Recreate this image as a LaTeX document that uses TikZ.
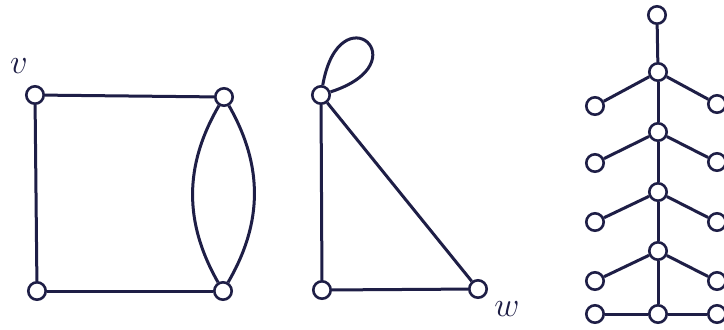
\documentclass[tikz,border=0pt]{standalone}
\usepackage{tikz}
\definecolor{tinte}{HTML}{1E1E46}
\tikzset{
  knoten/.style={circle,draw=tinte,fill=white,line width=1.3pt,minimum size=8.7pt,inner sep=0pt},
  kante/.style={tinte,line width=1.5pt},
  marke/.style={tinte,inner sep=0pt,font=\fontsize{18}{18}\selectfont},
}

\begin{document}
\begin{tikzpicture}[x=0.5pt,y=-0.5pt]
  \useasboundingbox[fill=white] (0,0) rectangle (724,329);
  % square with double edge
  \node[knoten] (v)  at (35,95)   {};
  \node[knoten] (ao) at (224,97)  {};
  \node[knoten] (cu) at (37,291)  {};
  \node[knoten] (bu) at (223,291) {};
  \node[marke] (lv) at (19,66) {$v$};
  \draw[kante] (v)--(ao);
  \draw[kante] (v)--(cu);
  \draw[kante] (cu)--(bu);
  \draw[kante] (ao) to[bend left=30] (bu);
  \draw[kante] (ao) to[bend right=30] (bu);
  % triangle with loop
  \node[knoten] (t)  at (321,95)  {};
  \node[knoten] (tu) at (322,290) {};
  \node[knoten] (w)  at (478,289) {};
  \node[marke] (lw) at (507,309) {$w$};
  \draw[kante] (t)--(tu);
  \draw[kante] (tu)--(w);
  \draw[kante] (t)--(w);
  \draw[kante] (t) to[out=80,in=18,distance=48pt] (t);
  % tree
  \node[knoten] (r0) at (657,15)  {};
  \node[knoten] (s1) at (658,72)  {};
  \node[knoten] (s2) at (658,132) {};
  \node[knoten] (s3) at (658,192) {};
  \node[knoten] (s4) at (658,251) {};
  \node[knoten] (s5) at (658,314) {};
  \node[knoten] (l1) at (595,106) {};
  \node[knoten] (l2) at (595,163) {};
  \node[knoten] (l3) at (595,222) {};
  \node[knoten] (l4) at (595,281) {};
  \node[knoten] (l5) at (595,314) {};
  \node[knoten] (q1) at (717,104) {};
  \node[knoten] (q2) at (717,162) {};
  \node[knoten] (q3) at (717,222) {};
  \node[knoten] (q4) at (717,281) {};
  \node[knoten] (q5) at (717,314) {};
  \draw[kante] (r0)--(s1);
  \draw[kante] (s1)--(s2);
  \draw[kante] (s2)--(s3);
  \draw[kante] (s3)--(s4);
  \draw[kante] (s4)--(s5);
  \draw[kante] (s1)--(l1);
  \draw[kante] (s2)--(l2);
  \draw[kante] (s3)--(l3);
  \draw[kante] (s4)--(l4);
  \draw[kante] (s5)--(l5);
  \draw[kante] (s1)--(q1);
  \draw[kante] (s2)--(q2);
  \draw[kante] (s3)--(q3);
  \draw[kante] (s4)--(q4);
  \draw[kante] (s5)--(q5);
\end{tikzpicture}
\end{document}
